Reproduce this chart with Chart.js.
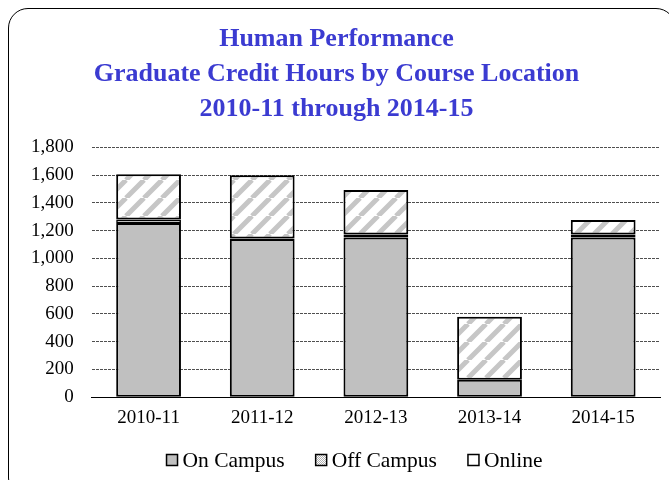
<!DOCTYPE html>
<html><head><meta charset="utf-8">
<script src="https://cdn.jsdelivr.net/npm/chart.js@4"></script>
<style>
html,body{margin:0;padding:0;background:#fff;}
#frame{position:absolute;left:8px;top:8px;width:668px;height:490px;border:1px solid #000;border-radius:20px;box-sizing:border-box;}
#wrap{position:absolute;left:0;top:0;width:669px;height:480px;}
</style></head>
<body>
<div id="frame"></div>
<div id="wrap"><canvas id="c" width="669" height="480"></canvas></div>
<script>
const categories = ["2010-11","2011-12","2012-13","2013-14","2014-15"];
const onCampus = [1255, 1140, 1150, 125, 1150];
const offCampus = [325, 455, 320, 455, 105];
const online = [25, 3, 22, 0, 22];
const titleLines = ["Human Performance","Graduate Credit Hours by Course Location","2010-11 through 2014-15"];
const legendOrder = ["On Campus","Off Campus","Online"];

function stripePattern(){
  const s = 18;
  const p = document.createElement('canvas');
  p.width = s; p.height = s;
  const g = p.getContext('2d');
  g.fillStyle = '#fff'; g.fillRect(0,0,s,s);
  g.strokeStyle = '#c6c6c6'; g.lineWidth = 5;
  g.beginPath();
  for (let k=-1;k<=1;k++){
    g.moveTo(k*s, s); g.lineTo(k*s+s, 0);
  }
  g.stroke();
  return g.createPattern(p,'repeat');
}
function dotPattern(){
  const p = document.createElement('canvas');
  p.width = 2; p.height = 2;
  const g = p.getContext('2d');
  g.fillStyle = '#fff'; g.fillRect(0,0,2,2);
  g.fillStyle = '#b0b0b0'; g.fillRect(0,0,1,1); g.fillRect(1,1,1,1);
  return g.createPattern(p,'repeat');
}
const ctx = document.getElementById('c').getContext('2d');
const pat = stripePattern();
const dpat = dotPattern();

const customLegend = {
  id:'customLegend',
  afterDraw(chart){
    const c = chart.ctx;
    const font = '21.5px "Liberation Serif"';
    c.save();
    c.font = font;
    const box = 11, gap = 5, spacing = 31;
    const items = legendOrder.map(name=>{
      const ds = chart.data.datasets.find(d=>d.label===name);
      return {name, ds, w: c.measureText(name).width};
    });
    const total = items.reduce((s,it)=>s+box+gap+it.w,0) + spacing*(items.length-1);
    let x = 354.5 - total/2;
    const y = 460;
    items.forEach(it=>{
      c.fillStyle = it.name==='Off Campus' ? dpat : it.ds.backgroundColor;
      c.fillRect(x, y-5.5, box, box);
      c.strokeStyle = '#000'; c.lineWidth = 1.5;
      c.strokeRect(x, y-5.5, box, box);
      c.fillStyle = '#000';
      c.textBaseline = 'middle';
      c.textAlign = 'left';
      c.fillText(it.name, x+box+gap, y+1);
      x += box+gap+it.w+spacing;
    });
    c.restore();
  }
};

new Chart(ctx,{
  type:'bar',
  data:{labels:categories,datasets:[
    {label:'On Campus',data:onCampus,backgroundColor:'#c0c0c0',borderColor:'#000',borderWidth:2,borderSkipped:false,categoryPercentage:0.57,barPercentage:1},
    {label:'Online',data:online,backgroundColor:'#fff',borderColor:'#000',borderWidth:1.5,borderSkipped:false,categoryPercentage:0.57,barPercentage:1},
    {label:'Off Campus',data:offCampus,backgroundColor:pat,borderColor:'#000',borderWidth:2,borderSkipped:false,categoryPercentage:0.57,barPercentage:1}
  ]},
  plugins:[customLegend],
  options:{
    responsive:false,animation:false,
    layout:{padding:{left:13,right:9,top:0,bottom:50}},
    plugins:{
      title:{display:true,text:titleLines,color:'#3b3bd1',font:{family:'Liberation Serif',size:26,weight:'bold',lineHeight:1.35},padding:{top:22,bottom:20}},
      legend:{display:false},
      tooltip:{enabled:false}
    },
    scales:{
      x:{stacked:true,grid:{display:false},border:{color:'#000',width:1},
        ticks:{font:{family:'Liberation Serif',size:19},color:'#000',padding:1}},
      y:{stacked:true,min:0,max:1800,
        ticks:{stepSize:200,font:{family:'Liberation Serif',size:19},color:'#000',padding:18,
          callback:v=>v.toLocaleString('en-US')},
        grid:{color:'#222',lineWidth:0.8,drawTicks:false},
        border:{display:false,dash:[3,1]}}
    }
  }
});
</script>
</body></html>
